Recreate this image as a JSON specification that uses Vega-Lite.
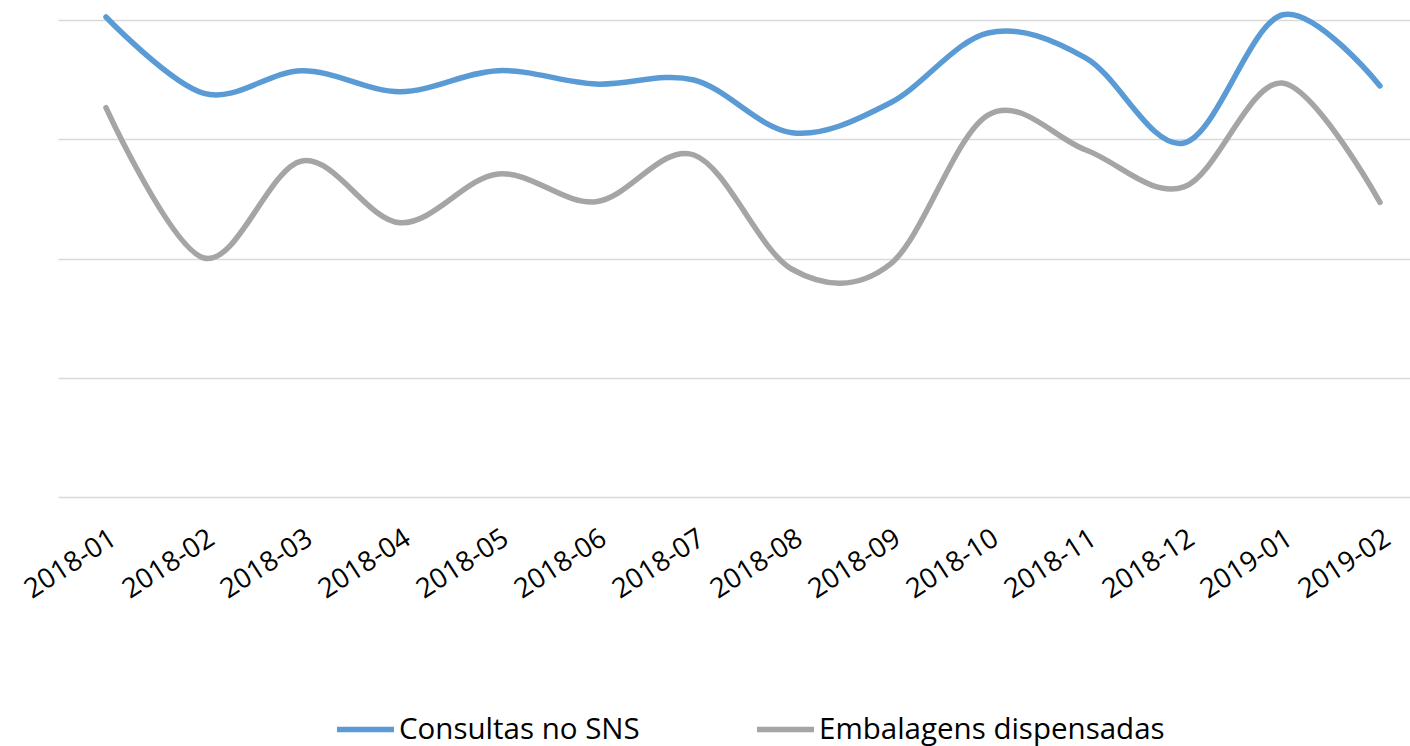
{
  "$schema": "https://vega.github.io/schema/vega-lite/v6.json",
  "autosize": {"type": "none"},
  "width": 1352,
  "height": 477,
  "padding": {"left": 58, "top": 20, "right": 0, "bottom": 249},
  "background": "white",
  "config": {"view": {"stroke": null}, "font": "Open Sans"},
  "data": {"values": [
    {"mes": "2018-01", "serie": "Consultas no SNS", "valor": 4.025},
    {"mes": "2018-02", "serie": "Consultas no SNS", "valor": 3.385},
    {"mes": "2018-03", "serie": "Consultas no SNS", "valor": 3.575},
    {"mes": "2018-04", "serie": "Consultas no SNS", "valor": 3.399},
    {"mes": "2018-05", "serie": "Consultas no SNS", "valor": 3.575},
    {"mes": "2018-06", "serie": "Consultas no SNS", "valor": 3.463},
    {"mes": "2018-07", "serie": "Consultas no SNS", "valor": 3.497},
    {"mes": "2018-08", "serie": "Consultas no SNS", "valor": 3.055},
    {"mes": "2018-09", "serie": "Consultas no SNS", "valor": 3.304},
    {"mes": "2018-10", "serie": "Consultas no SNS", "valor": 3.891},
    {"mes": "2018-11", "serie": "Consultas no SNS", "valor": 3.681},
    {"mes": "2018-12", "serie": "Consultas no SNS", "valor": 2.969},
    {"mes": "2019-01", "serie": "Consultas no SNS", "valor": 4.042},
    {"mes": "2019-02", "serie": "Consultas no SNS", "valor": 3.447},
    {"mes": "2018-01", "serie": "Embalagens dispensadas", "valor": 3.265},
    {"mes": "2018-02", "serie": "Embalagens dispensadas", "valor": 2.004},
    {"mes": "2018-03", "serie": "Embalagens dispensadas", "valor": 2.818},
    {"mes": "2018-04", "serie": "Embalagens dispensadas", "valor": 2.3},
    {"mes": "2018-05", "serie": "Embalagens dispensadas", "valor": 2.709},
    {"mes": "2018-06", "serie": "Embalagens dispensadas", "valor": 2.476},
    {"mes": "2018-07", "serie": "Embalagens dispensadas", "valor": 2.868},
    {"mes": "2018-08", "serie": "Embalagens dispensadas", "valor": 1.91},
    {"mes": "2018-09", "serie": "Embalagens dispensadas", "valor": 1.95},
    {"mes": "2018-10", "serie": "Embalagens dispensadas", "valor": 3.203},
    {"mes": "2018-11", "serie": "Embalagens dispensadas", "valor": 2.91},
    {"mes": "2018-12", "serie": "Embalagens dispensadas", "valor": 2.6},
    {"mes": "2019-01", "serie": "Embalagens dispensadas", "valor": 3.472},
    {"mes": "2019-02", "serie": "Embalagens dispensadas", "valor": 2.47}
  ]},
  "mark": {"type": "line", "interpolate": "cardinal", "strokeWidth": 5.5, "strokeCap": "round", "strokeJoin": "round"},
  "encoding": {
    "x": {
      "field": "mes", "type": "ordinal", "sort": null,
      "scale": {"type": "point", "padding": 0.398, "align": 0.615},
      "axis": {
        "title": null, "domain": false, "ticks": false, "tickSize": 0, "grid": false,
        "labelAngle": -33, "labelAlign": "right", "labelBaseline": "top",
        "labelPadding": 27, "labelFontSize": 27.5, "labelColor": "#000000",
        "labelFont": "Open Sans", "labelOverlap": false, "labelBound": false, "labelFlush": false
      }
    },
    "y": {
      "field": "valor", "type": "quantitative",
      "scale": {"domain": [0, 4], "nice": false, "zero": true},
      "axis": {
        "title": null, "domain": false, "ticks": false, "labels": false,
        "values": [0, 1, 2, 3, 4], "grid": true, "gridColor": "#d9d9d9", "gridWidth": 1.5
      }
    },
    "color": {
      "field": "serie", "type": "nominal",
      "scale": {"domain": ["Consultas no SNS", "Embalagens dispensadas"], "range": ["#5b9bd5", "#a5a5a5"]},
      "legend": {
        "title": null, "orient": "none", "direction": "horizontal",
        "legendX": 276, "legendY": 678,
        "symbolType": "stroke", "symbolSize": 3249, "symbolStrokeWidth": 5.5,
        "labelFontSize": 29.5, "labelFont": "Open Sans", "labelColor": "#000000",
        "labelOffset": 2, "columnPadding": 106, "labelLimit": 500, "padding": 0
      }
    }
  }
}
